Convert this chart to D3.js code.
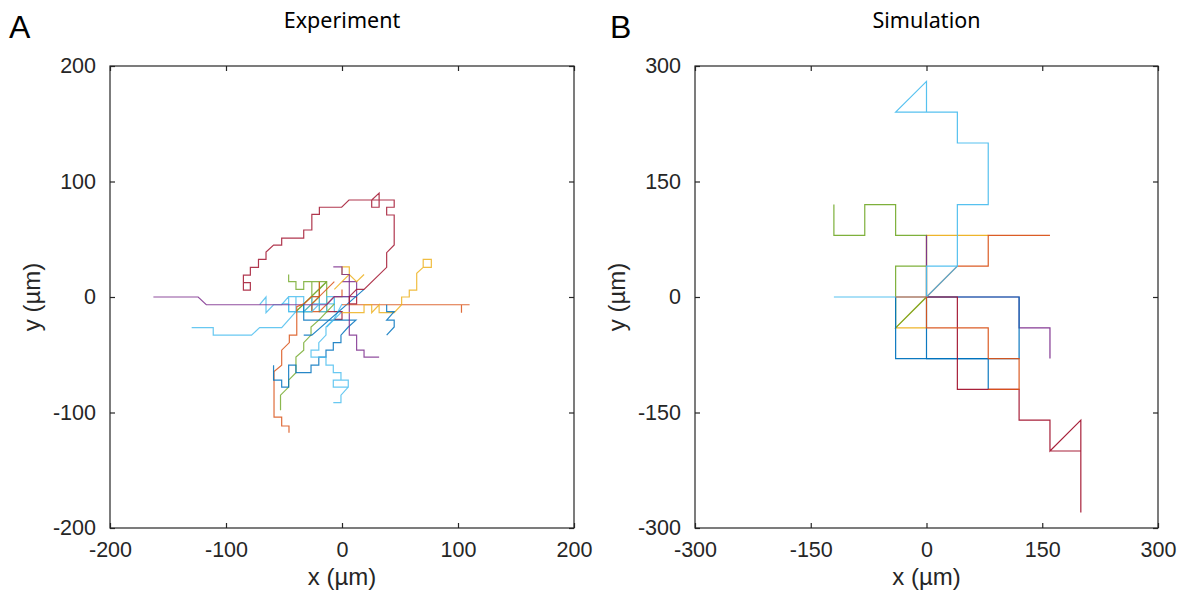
<!DOCTYPE html>
<html><head><meta charset="utf-8">
<script src="https://cdn.jsdelivr.net/npm/d3@7"></script>
<style>
body{margin:0;background:#fff;}
svg{display:block;}
.tick text{font-family:"Liberation Sans",Arial,sans-serif;font-size:21.5px;fill:#262626;}
</style></head>
<body><svg id="c" width="1192" height="600"></svg>
<script>
// ---------------- DATA ----------------
const panelLetters = ["A", "B"];
const panelTitles = ["Experiment", "Simulation"];
const xLabel = "x (µm)", yLabel = "y (µm)";
const expTicks = [-200, -100, 0, 100, 200];
const simTicks = [-300, -150, 0, 150, 300];

// Experiment trajectories (µm)
const expDarkRed = [[-85,12.4],[-79,12.4],[-79,6],[-85,6],[-85,19],[-79,19],[-79,25.7],[-72,25.7],[-72,32.6],[-65.5,32.6],[-65.5,39],[-59,45],[-52,45],[-52,51],[-33,51],[-33,58],[-26,58],[-26,71.6],[-19.5,71.6],[-19.5,77.7],[-0.3,77.7],[6,84],[32,84],[32,77.7],[25.6,77.7],[25.6,84],[32,90],[32,84],[45,84],[45,77.7],[38.5,77.7],[38.5,71],[45,71],[45,45],[38.5,38.4],[38.5,25.7],[19,6.6],[12.6,6.6],[6.3,0.3],[6.3,-6],[12.6,-6],[12.6,0.3]];
const expPurpleLeft = [[-162.6,0],[-124,0],[-117,-6.7],[-46,-6.7],[-13.2,-6.7],[-6.6,0.3],[12.6,0.3],[12.6,13.3],[0,13.3]];
const expPurpleDown = [[-7.5,26],[0,26],[0,19.5],[6.3,19.5],[6.3,-14],[6.3,-33],[12.6,-33],[12.6,-46],[19,-46],[19,-52],[32,-52]];
const expOrangeRight = [[0,-6.7],[12.6,-6.7],[103,-6.7],[103,-13.6],[103,-6.7],[110,-6.7]];
const expOrangeDown = [[-19.5,13.3],[-19.5,0.3],[-26,0.3],[-33,-6],[-39,-8.4],[-39,-33],[-45.4,-33],[-45.4,-39.5],[-52,-46],[-52,-59],[-58.6,-64.6],[-58.6,-104],[-52,-104],[-52,-111.7],[-45.7,-111.7],[-45.7,-117.5]];
const expOrangeMid = [[-6.6,13.3],[-26,-6],[-26,-12.7],[-19.5,-12.7],[-6.6,0.3],[0,0.3],[0,6.6]];
const expYellowRight = [[0,-13.6],[19,-13.6],[19,-6.7],[25.6,-6.7],[25.6,-13.6],[32,-6.7],[32,-13.6],[45,-13.6],[51.4,-6.7],[51.4,0],[58,0],[58,6],[64.4,6],[64.4,20.5],[70,25.7],[70,32.6],[77,32.6],[77,25.7],[70,25.7]];
const expYellowUp = [[-6.6,6.6],[0,13.3],[6.3,19.5],[6.3,26],[0,26],[0,19.5],[6.3,19.5],[12.6,13.3],[19,19.5]];
const expLightBlueLeft = [[-129.6,-26.5],[-111,-26.5],[-111,-33],[-78,-33],[-71,-26.5],[-52,-26.5],[-39.7,-12.7],[-26,-12.7],[-19.5,-6]];
const expLightBlueMid = [[-71,-6.7],[-65.5,0],[-65.5,-13.6],[-59,-6.7],[-52,-6.7],[-46,0.3],[-39.7,0.3],[-39.7,-12.7],[-46,-12.7],[-46,0.3],[-33,0.3],[-33,-12.7],[-26,-6],[-6.6,-6],[-6.6,0.3],[6.3,0.3]];
const expLightBlueGrid = [[-52,-6],[-46,-6],[-46,-12.7],[-26,-12.7],[-26,0.3],[-19.5,0.3],[-19.5,-12.7],[-13.2,-12.7],[-13.2,0.3],[-6.6,0.3],[-6.6,-12.7],[0,-12.7],[-13.2,-26]];
const expLightBlueDown = [[0,-6],[-7,-19.3],[-13.8,-26],[-13.8,-33],[-20,-39.5],[-20,-46],[-26.7,-46],[-26.7,-52],[-13.8,-52],[-13.8,-59],[-7.5,-59],[-7.5,-65.5],[-0.9,-65.5],[-0.9,-72],[5.4,-72],[5.4,-78],[-7.5,-78],[-7.5,-72],[5.4,-72],[5.4,-78],[-0.9,-85],[-0.9,-91.5],[-7.5,-91.5]];
const expBlueDown = [[-33,-6],[-33,-20],[12,-20],[5.4,-26],[-0.9,-33],[-0.9,-39.5],[-7.5,-39.5],[-7.5,-46],[-13.8,-46],[-13.8,-52],[-20,-52],[-20,-59],[-26.7,-59],[-26.7,-65.5],[-39.7,-65.5],[-39.7,-59],[-46,-59],[-46,-78],[-52,-78],[-52,-72],[-59,-72],[-59,-59]];
const expBlueDiag = [[19,6.6],[-26,-33],[-33,-33]];
const expBlueRight = [[38.5,-6.7],[38.5,-12.7],[45,-12.7],[38.5,-20],[45,-20],[45,-26],[38.5,-33]];
const expGreenDown = [[-6.6,-6],[-13.8,-13.6],[-20,-20],[-26.7,-26],[-26.7,-33],[-33,-39.5],[-33,-46],[-39.7,-52],[-39.7,-65.5],[-46,-72],[-46,-78],[-53,-85],[-53,-98]];
const expGreenGrid = [[-46,19.5],[-46,13.3],[-39.7,13.3],[-39.7,6.6],[-33,6.6],[-33,13.3],[-13.2,13.3],[-13.2,-12.7],[-19.5,-12.7],[-19.5,13.3],[-26,13.3],[-26,-12.7],[-39.7,-12.7],[-13.2,13.3]];
const expGreenDiag = [[-33,-12.7],[-19.5,0.3],[-19.5,6.6],[-13.2,13.3],[-39.7,-12.7]];
const expDarkRedMid = [[-13.2,-12.7],[0,-12.7],[0,-19.3],[-6.6,-19.3]];

// Simulation trajectories (µm)
const simYellowA = [[0,0],[-40,-40],[0,-40]];
const simGreenA = [[0,0],[-40,-40],[-40,0],[-40,40],[0,40]];
const simYellowB = [[0,0],[0,40],[0,80],[40,80],[80,80]];
const simGreenB = [[0,0],[0,40],[0,80],[-40,80],[-40,120],[-80,120],[-80,80],[-120,80],[-120,120]];
const simPurpleB = [[0,0],[40,0],[80,0],[120,0],[120,-40],[160,-40],[160,-80]];
const simPurpleA = [[0,0],[0,40],[0,80]];
const simBlueA = [[0,0],[40,0],[80,0],[120,0],[120,-40],[120,-80],[80,-80],[40,-80],[0,-80],[-40,-80],[-40,-40],[-40,0]];
const simBlueB = [[0,0],[0,-40],[0,-80],[40,-80],[80,-80],[80,-120]];
const simDarkRed = [[0,0],[40,0],[40,-40],[40,-80],[40,-120],[80,-120],[120,-120],[120,-160],[160,-160],[160,-200],[200,-160],[200,-200],[160,-200],[200,-200],[200,-280]];
const simOrangeB = [[0,0],[40,40],[80,40],[80,80],[120,80],[160,80]];
const simLightBlueB = [[-120,0],[0,0],[40,40]];
const simLightBlueA = [[0,0],[0,40],[40,40],[40,120],[80,120],[80,200],[40,200],[40,240],[-40,240],[0,280],[0,240]];
const simOrangeA = [[-40,0],[0,0],[0,-40],[40,-40],[80,-40],[80,-80],[120,-80],[120,-120],[80,-120]];

// ---------------- STYLE ----------------
const C = {blue:"#0072BD", orange:"#D95319", yellow:"#EDB120", purple:"#7E2F8E", green:"#77AC30", lightblue:"#4DBEEE", darkred:"#A2142F"};
const expSeries = [
  [expGreenGrid,"green"],[expLightBlueGrid,"lightblue"],[expGreenDiag,"green"],[expLightBlueMid,"lightblue"],
  [expOrangeMid,"orange"],[expDarkRedMid,"darkred"],
  [expPurpleLeft,"purple"],[expLightBlueLeft,"lightblue"],[expOrangeDown,"orange"],
  [expGreenDown,"green"],[expBlueDown,"blue"],[expLightBlueDown,"lightblue"],
  [expBlueDiag,"blue"],[expYellowUp,"yellow"],[expPurpleDown,"purple"],
  [expOrangeRight,"orange"],[expYellowRight,"yellow"],[expBlueRight,"blue"],
  [expDarkRed,"darkred"]
];
const simSeries = [
  [simYellowA,"yellow"],[simGreenA,"green"],[simYellowB,"yellow"],[simGreenB,"green"],
  [simPurpleB,"purple"],[simPurpleA,"purple"],[simBlueA,"blue"],[simBlueB,"blue"],
  [simDarkRed,"darkred"],[simOrangeB,"orange"],[simLightBlueB,"lightblue"],
  [simLightBlueA,"lightblue"],[simOrangeA,"orange"]
];

const svg = d3.select("#c");
const axisColor = "#262626";
const panels = [
  {letter:panelLetters[0], title:panelTitles[0], dom:[-200,200], ticks:expTicks, x0:110, x1:574, series:expSeries, lx:9, op:0.85},
  {letter:panelLetters[1], title:panelTitles[1], dom:[-300,300], ticks:simTicks, x0:695, x1:1158, series:simSeries, lx:610, op:0.95}
];
const plotTop = 66, plotBottom = 528;
const fmt = d => String(d);

panels.forEach(p => {
  const x = d3.scaleLinear().domain(p.dom).range([p.x0, p.x1]);
  const y = d3.scaleLinear().domain(p.dom).range([plotBottom, plotTop]);
  const g = svg.append("g");
  const clipId = "clip" + p.letter;
  g.append("clipPath").attr("id", clipId).append("rect")
    .attr("x", p.x0).attr("y", plotTop).attr("width", p.x1 - p.x0).attr("height", plotBottom - plotTop);
  const line = d3.line().x(d => x(d[0])).y(d => y(d[1]));
  const lg = g.append("g").attr("clip-path", `url(#${clipId})`);
  p.series.forEach(([pts, col]) => {
    lg.append("path").attr("d", line(pts)).attr("fill", "none")
      .attr("stroke", C[col]).attr("stroke-width", 1.2).attr("stroke-opacity", p.op)
      .attr("stroke-linejoin", "miter");
  });
  const tl = 5;
  const ax = [
    g.append("g").attr("transform", `translate(0,${plotBottom})`).call(d3.axisBottom(x).tickValues(p.ticks).tickSize(-tl).tickPadding(14).tickFormat(fmt)),
    g.append("g").attr("transform", `translate(0,${plotTop})`).call(d3.axisTop(x).tickValues(p.ticks).tickSize(-tl).tickFormat("")),
    g.append("g").attr("transform", `translate(${p.x0},0)`).call(d3.axisLeft(y).tickValues(p.ticks).tickSize(-tl).tickPadding(14).tickFormat(fmt)),
    g.append("g").attr("transform", `translate(${p.x1},0)`).call(d3.axisRight(y).tickValues(p.ticks).tickSize(-tl).tickFormat(""))
  ];
  ax.forEach(a => { a.select(".domain").remove(); a.selectAll("line").attr("stroke", axisColor).attr("stroke-width", 1.2); });
  g.append("rect").attr("x", p.x0).attr("y", plotTop).attr("width", p.x1 - p.x0).attr("height", plotBottom - plotTop)
    .attr("fill", "none").attr("stroke", axisColor).attr("stroke-width", 1.2);
  const cx = (p.x0 + p.x1) / 2;
  g.append("text").attr("x", cx).attr("y", 579).attr("text-anchor", "middle").attr("dominant-baseline", "middle")
    .style("font-family", "Liberation Sans, Arial, sans-serif").style("font-size", "24px").attr("fill", axisColor).text(xLabel);
  g.append("text").attr("transform", `translate(${p.x0 - 76},${(plotTop + plotBottom) / 2}) rotate(-90)`).attr("text-anchor", "middle")
    .attr("dominant-baseline", "middle")
    .style("font-family", "Liberation Sans, Arial, sans-serif").style("font-size", "24px").attr("fill", axisColor).text(yLabel);
  g.append("text").attr("x", cx).attr("y", 22).attr("text-anchor", "middle").attr("dominant-baseline", "middle")
    .style("font-family", "Noto Sans, sans-serif").style("font-size", "21.5px").attr("fill", "#000").text(p.title);
  g.append("text").attr("x", p.lx).attr("y", 38)
    .style("font-family", "Liberation Sans, Arial, sans-serif").style("font-size", "32px").attr("fill", "#000").text(p.letter);
});
</script></body></html>
